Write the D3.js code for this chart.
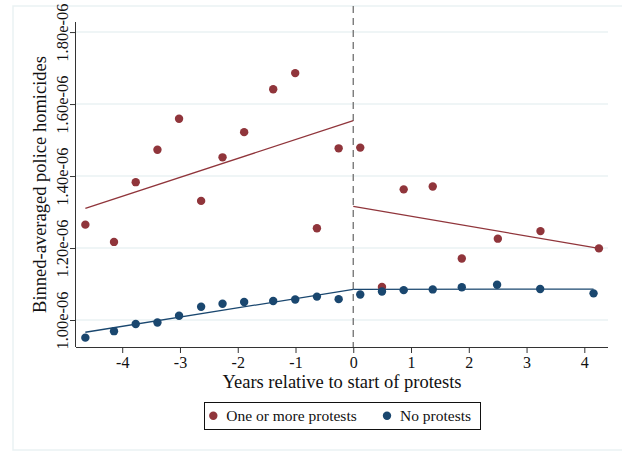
<!DOCTYPE html>
<html>
  <head>
    <meta charset="utf-8">
    <title>Binned scatter</title>
    <style>
      body { margin: 0; background: #fff; }
      svg text { font-family: "Liberation Serif", "DejaVu Serif", serif; }
    </style>
    <script src="https://d3js.org/d3.v7.min.js"></script>
  </head>
  <body>
    <script>

        // bins before the first protest (years), shared by both groups
        var preYears = [-4.638, -4.142, -3.766, -3.390, -3.016, -2.634, -2.263, -1.889, -1.386, -1.005, -0.629, -0.253];
        var protestPre = [1.265e-6, 1.217e-6, 1.383e-6, 1.473e-6, 1.559e-6, 1.331e-6, 1.452e-6, 1.522e-6, 1.641e-6, 1.686e-6, 1.255e-6, 1.477e-6];
        var noProtestPre = [0.951e-6, 0.969e-6, 0.989e-6, 0.993e-6, 1.012e-6, 1.037e-6, 1.045e-6, 1.050e-6, 1.053e-6, 1.057e-6, 1.065e-6, 1.058e-6];

        // bins after
        var postYearsProtest = [0.121, 0.497, 0.873, 1.376, 1.879, 2.503, 3.241, 4.253];
        var protestPost = [1.479e-6, 1.092e-6, 1.363e-6, 1.371e-6, 1.171e-6, 1.226e-6, 1.247e-6, 1.199e-6];
        var postYearsNone = [0.121, 0.497, 0.873, 1.376, 1.879, 2.490, 3.236, 4.160];
        var noProtestPost = [1.071e-6, 1.079e-6, 1.083e-6, 1.085e-6, 1.091e-6, 1.098e-6, 1.086e-6, 1.074e-6];

        // linear fits, endpoints [year, value]
        var protestFitPre = [[-4.638, 1.310e-6], [0, 1.554e-6]];
        var protestFitPost = [[0, 1.316e-6], [4.253, 1.199e-6]];
        var noneFitPre = [[-4.638, 0.966e-6], [0, 1.085e-6]];
        var noneFitPost = [[0, 1.085e-6], [4.160, 1.086e-6]];

        var xTicks = [-4, -3, -2, -1, 0, 1, 2, 3, 4];
        var yTicks = [1.0e-6, 1.2e-6, 1.4e-6, 1.6e-6, 1.8e-6];
        var yTickLabels = ["1.00e-06", "1.20e-06", "1.40e-06", "1.60e-06", "1.80e-06"];
        var seriesNames = ["One or more protests", "No protests"];

        var width = 622, height = 457;
        var red = "#90353b", navy = "#1a476f", grid = "#eaf2f3";
        var serif = "Liberation Serif";

        var svg = d3.select("body").append("svg")
            .attr("width", width)
            .attr("height", height);

        // faint outer frame
        svg.append("rect")
            .attr("x", 13).attr("y", 6)
            .attr("width", 620).attr("height", 444)
            .attr("fill", "none")
            .attr("stroke", grid)
            .attr("stroke-width", 1.5);

        var x = d3.scaleLinear().domain([-4.8, 4.41]).range([76, 608]);
        var y = d3.scaleLinear().domain([0.925e-6, 1.828e-6]).range([347, 22]);

        // gridlines
        svg.append("g").selectAll("line").data(yTicks).enter().append("line")
            .attr("x1", 76).attr("x2", 608)
            .attr("y1", function (d) { return y(d); })
            .attr("y2", function (d) { return y(d); })
            .attr("stroke", grid)
            .attr("stroke-width", 1.5);

        // axes
        var xAxis = svg.append("g")
            .attr("transform", "translate(0,347)")
            .call(d3.axisBottom(x).tickValues(xTicks).tickSize(6).tickPadding(4));
        xAxis.attr("font-family", serif);
        xAxis.select(".domain").attr("d", "M76,0.5H608").attr("stroke", "#333");
        xAxis.selectAll(".tick line").attr("stroke", "#333");
        xAxis.selectAll("text")
            .attr("font-family", serif)
            .attr("font-size", 16)
            .attr("fill", "#111")
            .text(function (d) { return d < 0 ? "-" + Math.abs(d) : d; });

        var yAxis = svg.append("g")
            .attr("transform", "translate(76,0)")
            .call(d3.axisLeft(y).tickValues(yTicks).tickSize(6).tickFormat(function (d, i) { return yTickLabels[i]; }));
        yAxis.attr("font-family", serif);
        yAxis.select(".domain").attr("d", "M-0.5,22V347").attr("stroke", "#333");
        yAxis.selectAll(".tick line").attr("stroke", "#333");
        yAxis.selectAll("text")
            .attr("font-family", serif)
            .attr("font-size", 16.5)
            .attr("fill", "#111")
            .attr("x", null).attr("dy", null)
            .attr("text-anchor", "middle")
            .attr("transform", "translate(-8,0) rotate(-90)");

        // vertical dashed line at 0
        svg.append("line")
            .attr("x1", x(0)).attr("x2", x(0))
            .attr("y1", 6).attr("y2", 347)
            .attr("stroke", "#7a7a7a")
            .attr("stroke-width", 1.4)
            .attr("stroke-dasharray", "7,5");

        var line = d3.line()
            .x(function (d) { return x(d[0]); })
            .y(function (d) { return y(d[1]); });

        var fits = [[protestFitPre, red], [protestFitPost, red], [noneFitPre, navy], [noneFitPost, navy]];
        fits.forEach(function (f) {
            svg.append("path")
                .attr("d", line(f[0]))
                .attr("fill", "none")
                .attr("stroke", f[1])
                .attr("stroke-width", 1.3);
        });

        function dots(xs, ys, color) {
            svg.append("g").selectAll("circle").data(xs).enter().append("circle")
                .attr("cx", function (d) { return x(d); })
                .attr("cy", function (d, i) { return y(ys[i]); })
                .attr("r", 4.2)
                .attr("fill", color);
        }
        dots(preYears, protestPre, red);
        dots(postYearsProtest, protestPost, red);
        dots(preYears, noProtestPre, navy);
        dots(postYearsNone, noProtestPost, navy);

        // axis titles
        svg.append("text")
            .attr("x", 342).attr("y", 388)
            .attr("text-anchor", "middle")
            .attr("font-family", serif)
            .attr("font-size", 18.5)
            .attr("fill", "#111")
            .text("Years relative to start of protests");

        svg.append("text")
            .attr("transform", "translate(46,184.5) rotate(-90)")
            .attr("text-anchor", "middle")
            .attr("font-family", serif)
            .attr("font-size", 18.5)
            .attr("fill", "#111")
            .text("Binned-averaged police homicides");

        // legend
        var legend = svg.append("g");
        legend.append("rect")
            .attr("x", 204.5).attr("y", 402.5)
            .attr("width", 276).attr("height", 27)
            .attr("fill", "#fff")
            .attr("stroke", "#111")
            .attr("stroke-width", 1);

        var legendX = [213.3, 387];
        var legendColors = [red, navy];
        seriesNames.forEach(function (name, i) {
            legend.append("circle")
                .attr("cx", legendX[i]).attr("cy", 415.7)
                .attr("r", 4.2)
                .attr("fill", legendColors[i]);
            legend.append("text")
                .attr("x", legendX[i] + 13).attr("y", 421)
                .attr("font-family", serif)
                .attr("font-size", 15.5)
                .attr("fill", "#111")
                .text(name);
        });

    </script>
  </body>
</html>
